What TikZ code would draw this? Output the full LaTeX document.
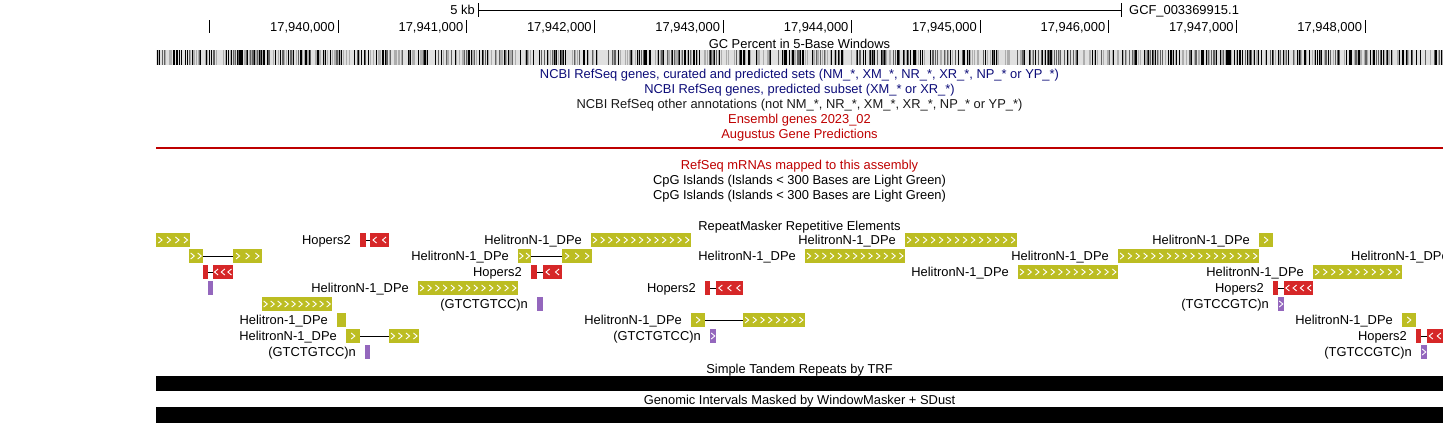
\documentclass[tikz,border=0pt]{standalone}
\usepackage{fontspec}
\setmainfont{Liberation Sans}
\usetikzlibrary{positioning}

\definecolor{rmolive}{HTML}{BCBD22}
\definecolor{rmredc}{HTML}{D62728}
\definecolor{rmpurple}{HTML}{9467BD}
\definecolor{ncbiblue}{RGB}{12,12,120}
\definecolor{ensred}{RGB}{190,0,0}
\newcommand{\trackfont}{\fontsize{12.9}{15}\selectfont}

% chevrons in a block: y, x1, x2, count, direction (1 right, -1 left)
\newcommand{\chev}[5]{%
  \pgfmathsetmacro\cstep{(#3-#2)/#4}%
  \foreach \k in {1,...,#4}{%
    \pgfmathsetmacro\ca{#2+(\k-0.5)*\cstep-1.8*(#5)}%
    \pgfmathsetmacro\cb{#2+(\k-0.5)*\cstep+1.8*(#5)}%
    \draw[chevron] (\ca,#1-3) -- (\cb,#1) -- (\ca,#1+3);
  }}
% one block: name, y, x1, x2, style, chevrons, direction
\newcommand{\blk}[7]{%
  \node[#5, minimum width=#4pt-#3pt] (#1) at ({(#3+#4)/2},#2) {};%
  \ifnum#6>0 \chev{#2}{#3}{#4}{#6}{#7}\fi}

\begin{document}
\begin{tikzpicture}[%
    x=1pt, y=-1pt,        % one unit is one pixel, rows go down
    node distance=9pt,    % gap between a label and its block
    ]
\tikzset{
  lbl/.style={font=\trackfont, inner sep=0pt, text height=9pt, text depth=0pt},
  title/.style={lbl, anchor=center},
  blkbase/.style={draw=none, inner sep=0pt, outer sep=0pt, minimum height=14pt},
  rmolv/.style={blkbase, fill=rmolive},
  rmred/.style={blkbase, fill=rmredc},
  rmprp/.style={blkbase, fill=rmpurple},
  chevron/.style={white, line width=0.9pt},
  intron/.style={black, line width=1pt},
  rule/.style={black, line width=1pt}
}
\useasboundingbox (0,0) rectangle (1443,423);

% ruler
\coordinate (kbL) at (478,10);
\coordinate (kbR) at (1121,10);
\draw[rule] (kbL) -- (kbR);
\draw[rule] ([yshift=7pt]kbL) -- ([yshift=-7pt]kbL);
\draw[rule] ([yshift=7pt]kbR) -- ([yshift=-7pt]kbR);
\node[lbl, left=3pt of kbL] (kb) {5 kb};
\node[lbl, right=8pt of kbR] (asm) {GCF\_003369915.1};
\draw[rule] (209,20) -- (209,33);
\foreach \k in {0,...,8}{
  \pgfmathsetmacro\tx{338+128.4*\k}
  \pgfmathtruncatemacro\num{40+\k}
  \draw[rule] (\tx,20) -- (\tx,33);
  \node[lbl, anchor=east] (tick\k) at (\tx-3,26.5) {17,9\num,000};
}

% GC percent
\node[title] (gc) at (799.5,44) {GC Percent in 5-Base Windows};
\pgfmathsetseed{42}
\foreach \x in {156,...,1442}{
  \pgfmathrandominteger{\r}{0}{99}
  \pgfmathtruncatemacro\g{\r<20 ? 100 : (\r<34 ? 62 : (\r<54 ? 32 : 12))}
  \fill[black!\g] (\x,50) rectangle (\x+1.1,65);
}

% hidden tracks
\node[title, text=ncbiblue] (ncbi1) at (799.5,74) {NCBI RefSeq genes, curated and predicted sets (NM\_*, XM\_*, NR\_*, XR\_*, NP\_* or YP\_*)};
\node[title, text=ncbiblue] (ncbi2) at (799.5,89) {NCBI RefSeq genes, predicted subset (XM\_* or XR\_*)};
\node[title, text=black!90] (ncbi3) at (799.5,104) {NCBI RefSeq other annotations (not NM\_*, NR\_*, XM\_*, XR\_*, NP\_* or YP\_*)};
\node[title, text=ensred] (ens) at (799.5,119) {Ensembl genes 2023\_02};
\node[title, text=ensred] (aug) at (799.5,134) {Augustus Gene Predictions};
\draw[ensred, line width=1.2pt] (156,148) -- (1443,148);
\node[title, text=ensred] (mrna) at (799.5,165) {RefSeq mRNAs mapped to this assembly};
\node[title] (cpg1) at (799.5,180) {CpG Islands (Islands < 300 Bases are Light Green)};
\node[title] (cpg2) at (799.5,195) {CpG Islands (Islands < 300 Bases are Light Green)};

% RepeatMasker
\node[title] (rmsk) at (799.5,226) {RepeatMasker Repetitive Elements};
% row 1
\blk{b1a}{240}{156}{190}{rmolv}{4}{1}
\blk{b1b}{240}{360}{366}{rmred}{0}{-1}
\blk{b1c}{240}{370}{389}{rmred}{2}{-1}
\draw[intron] (b1b.east) -- (b1c.west);
\node[lbl, left=of b1b] (l1b) {Hopers2};
\blk{b1d}{240}{591}{691}{rmolv}{13}{1}
\node[lbl, left=of b1d] (l1d) {HelitronN-1\_DPe};
\blk{b1e}{240}{905}{1017}{rmolv}{14}{1}
\node[lbl, left=of b1e] (l1e) {HelitronN-1\_DPe};
\blk{b1f}{240}{1259}{1273}{rmolv}{1}{1}
\node[lbl, left=of b1f] (l1f) {HelitronN-1\_DPe};
% row 2
\blk{b2a}{256}{189}{203}{rmolv}{2}{1}
\blk{b2b}{256}{233}{262}{rmolv}{3}{1}
\draw[intron] (b2a.east) -- (b2b.west);
\blk{b2c}{256}{518}{531}{rmolv}{2}{1}
\blk{b2d}{256}{562}{592}{rmolv}{3}{1}
\draw[intron] (b2c.east) -- (b2d.west);
\node[lbl, left=of b2c] (l2c) {HelitronN-1\_DPe};
\blk{b2e}{256}{805}{905}{rmolv}{13}{1}
\node[lbl, left=of b2e] (l2e) {HelitronN-1\_DPe};
\blk{b2f}{256}{1118}{1259}{rmolv}{18}{1}
\node[lbl, left=of b2f] (l2f) {HelitronN-1\_DPe};
\node[lbl, anchor=west] (l2g) at (1351,256) {HelitronN-1\_DPe};
% row 3
\blk{b3a}{272}{203}{208}{rmred}{0}{-1}
\blk{b3b}{272}{213}{233}{rmred}{3}{-1}
\draw[intron] (b3a.east) -- (b3b.west);
\blk{b3c}{272}{531}{537}{rmred}{0}{-1}
\blk{b3d}{272}{543}{562}{rmred}{2}{-1}
\draw[intron] (b3c.east) -- (b3d.west);
\node[lbl, left=of b3c] (l3c) {Hopers2};
\blk{b3e}{272}{1018}{1118}{rmolv}{13}{1}
\node[lbl, left=of b3e] (l3e) {HelitronN-1\_DPe};
\blk{b3f}{272}{1313}{1402}{rmolv}{11}{1}
\node[lbl, left=of b3f] (l3f) {HelitronN-1\_DPe};
% row 4
\blk{b4a}{288}{208}{213}{rmprp}{0}{1}
\blk{b4b}{288}{418}{518}{rmolv}{13}{1}
\node[lbl, left=of b4b] (l4b) {HelitronN-1\_DPe};
\blk{b4c}{288}{705}{710}{rmred}{0}{-1}
\blk{b4d}{288}{716}{743}{rmred}{3}{-1}
\draw[intron] (b4c.east) -- (b4d.west);
\node[lbl, left=of b4c] (l4c) {Hopers2};
\blk{b4e}{288}{1273}{1278}{rmred}{0}{-1}
\blk{b4f}{288}{1284}{1313}{rmred}{4}{-1}
\draw[intron] (b4e.east) -- (b4f.west);
\node[lbl, left=of b4e] (l4e) {Hopers2};
% row 5
\blk{b5a}{304}{262}{332}{rmolv}{10}{1}
\blk{b5b}{304}{537}{543}{rmprp}{0}{1}
\node[lbl, left=of b5b] (l5b) {(GTCTGTCC)n};
\blk{b5c}{304}{1278}{1284}{rmprp}{1}{1}
\node[lbl, left=of b5c] (l5c) {(TGTCCGTC)n};
% row 6
\blk{b6a}{320}{337}{346}{rmolv}{0}{1}
\node[lbl, left=of b6a] (l6a) {Helitron-1\_DPe};
\blk{b6b}{320}{691}{705}{rmolv}{1}{1}
\blk{b6c}{320}{743}{805}{rmolv}{8}{1}
\draw[intron] (b6b.east) -- (b6c.west);
\node[lbl, left=of b6b] (l6b) {HelitronN-1\_DPe};
\blk{b6d}{320}{1402}{1416}{rmolv}{1}{1}
\node[lbl, left=of b6d] (l6d) {HelitronN-1\_DPe};
% row 7
\blk{b7a}{336}{346}{360}{rmolv}{1}{1}
\blk{b7b}{336}{389}{419}{rmolv}{4}{1}
\draw[intron] (b7a.east) -- (b7b.west);
\node[lbl, left=of b7a] (l7a) {HelitronN-1\_DPe};
\blk{b7c}{336}{710}{716}{rmprp}{1}{1}
\node[lbl, left=of b7c] (l7c) {(GTCTGTCC)n};
\blk{b7d}{336}{1416}{1421}{rmred}{0}{-1}
\blk{b7e}{336}{1427}{1443}{rmred}{2}{-1}
\draw[intron] (b7d.east) -- (b7e.west);
\node[lbl, left=of b7d] (l7d) {Hopers2};
% row 8
\blk{b8a}{352}{365}{370}{rmprp}{0}{1}
\node[lbl, left=of b8a] (l8a) {(GTCTGTCC)n};
\blk{b8b}{352}{1421}{1427}{rmprp}{1}{1}
\node[lbl, left=of b8b] (l8b) {(TGTCCGTC)n};

% dense tracks
\node[title] (trf) at (799.5,369) {Simple Tandem Repeats by TRF};
\fill (156,376) rectangle (1443,391);
\node[title] (wm) at (799.5,400) {Genomic Intervals Masked by WindowMasker + SDust};
\fill (156,407) rectangle (1443,423);
\end{tikzpicture}
\end{document}
